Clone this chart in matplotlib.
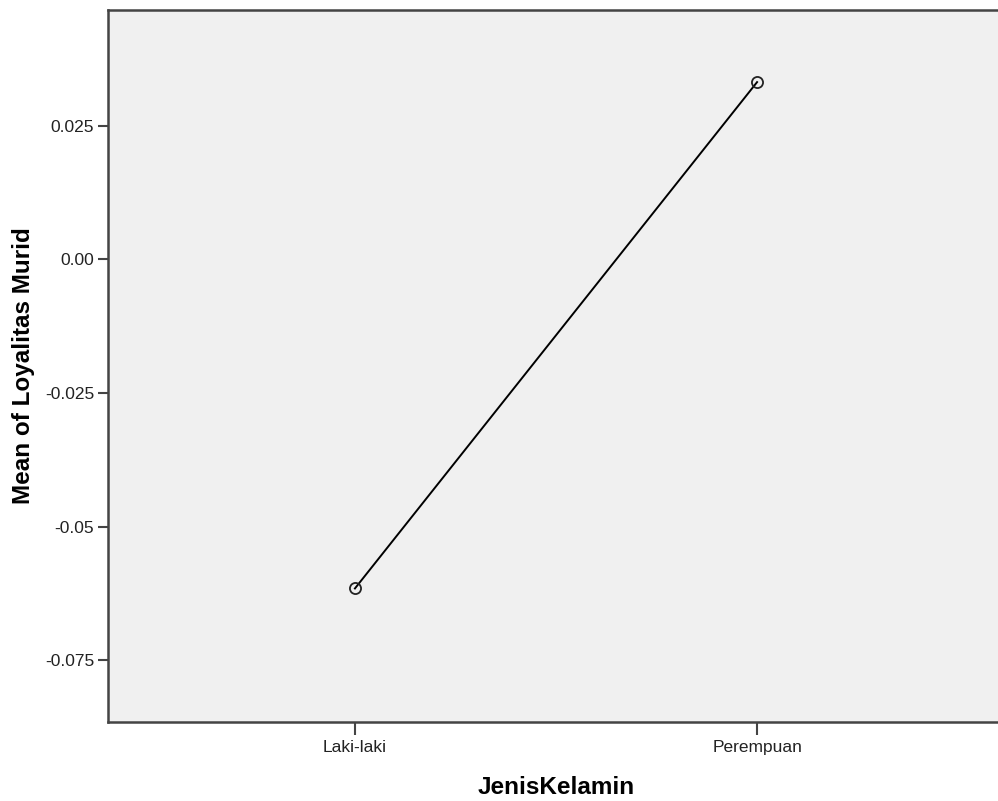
import matplotlib
matplotlib.use("Agg")
import matplotlib.pyplot as plt

## Data
categories = ['Laki-laki', 'Perempuan']
means = [-0.0616, 0.0332]
yticks = [-0.075, -0.05, -0.025, 0.00, 0.025]
yticklabels = ['-0.075', '-0.05', '-0.025', '0.00', '0.025']

plt.rcParams['font.family'] = ['Liberation Sans', 'DejaVu Sans']

fig = plt.figure(figsize=(9.98, 8.01), dpi=100)
ax = fig.add_axes([108/998, 1-722/801, (1004-108)/998, (722-10)/801])
ax.set_facecolor('#f0f0f0')

x = list(range(len(categories)))
ax.plot(x, means, color='black', linewidth=1.4, marker='o', markersize=8,
        markerfacecolor='none', markeredgecolor='#222222', markeredgewidth=1.3)

ax.set_xlim(-0.614, 1.614)
ax.set_ylim(-0.0866, 0.0467)
ax.set_xticks(x)
ax.set_xticklabels(categories, fontsize=12.5, color='#222222')
ax.set_yticks(yticks)
ax.set_yticklabels(yticklabels, fontsize=12.5, color='#222222')

ax.tick_params(axis='both', direction='out', length=7, width=1.5, color='#444444', pad=3)
ax.tick_params(axis='x', length=9, pad=4)

for s in ['left', 'top', 'bottom']:
    ax.spines[s].set_color('#444444')
    ax.spines[s].set_linewidth(1.8)
ax.spines['right'].set_visible(False)

ax.set_xlabel('JenisKelamin', fontsize=17.5, fontweight='bold', labelpad=15)
ax.set_ylabel('Mean of Loyalitas Murid', fontsize=17.5, fontweight='bold', labelpad=7)

fig.savefig('out.png', dpi=100)
